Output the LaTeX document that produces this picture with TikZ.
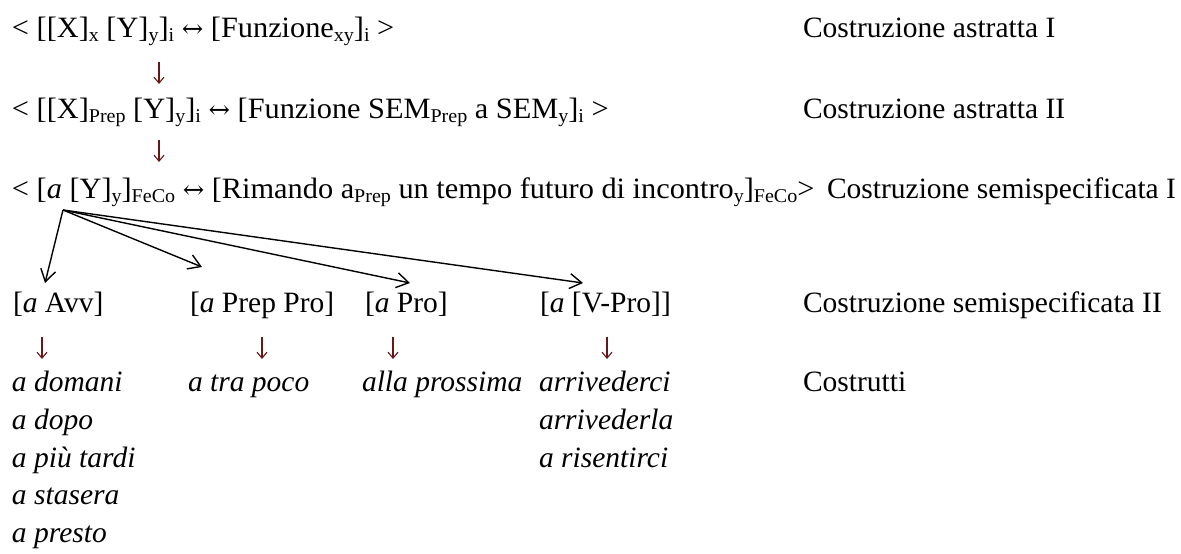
\documentclass[tikz,border=0pt]{standalone}
\usepackage{fontspec}
\setmainfont{Liberation Serif}
\newfontfamily\arrfont{DejaVu Serif}
\usetikzlibrary{arrows.meta}
\definecolor{arrred}{RGB}{105,22,22}
\newcommand\sbx[1]{\raisebox{-0.14em}{\fontsize{19.5}{20}\selectfont #1}}
\newcommand\lra{{\arrfont\fontsize{25}{25}\selectfont ↔}}
\newcommand\wide[1]{\scalebox{1.028}[1]{#1}}
\begin{document}
\begin{tikzpicture}[x=1pt,y=-1pt,
  every node/.style={inner sep=0pt,outer sep=0pt,anchor=base west,font=\fontsize{29.5}{32}\selectfont},
  downarr/.style={draw=arrred,line width=1.1pt,-{Straight Barb[length=6pt,width=10pt]}},
  fanarr/.style={draw=black,line width=1.4pt,-{Straight Barb[length=12pt,width=15pt]}}]
\useasboundingbox (0,0) rectangle (1181,554);
% row 1
\node (r1) at (12,37) {\wide{< [[X]\sbx{x} [Y]\sbx{y}]\sbx{i} \lra{} [Funzione\sbx{xy}]\sbx{i} >}};
\node (l1) at (803,37) {Costruzione astratta I};
\coordinate (d1a) at (159,62);
\coordinate (d1b) at (159,84);
\draw[downarr] (d1a) -- (d1b);
% row 2
\node (r2) at (12,118) {\wide{< [[X]\sbx{Prep} [Y]\sbx{y}]\sbx{i} \lra{} [Funzione SEM\sbx{Prep} a SEM\sbx{y}]\sbx{i} >}};
\node (l2) at (803,118) {Costruzione astratta II};
\coordinate (d2a) at (159,140);
\coordinate (d2b) at (159,162);
\draw[downarr] (d2a) -- (d2b);
% row 3
\node (r3) at (12,198) {\wide{< [\textit{a} [Y]\sbx{y}]\sbx{FeCo} \lra{} [Rimando a\sbx{Prep} un tempo futuro di incontro\sbx{y}]\sbx{FeCo}>}};
\node (l3) at (827,198) {Costruzione semispecificata I};
% fan
\coordinate (fan) at (63,210);
\coordinate (t1) at (45,283);
\coordinate (t2) at (202,267);
\coordinate (t3) at (410,283);
\coordinate (t4) at (583,283);
\draw[fanarr] (fan) -- (t1);
\draw[fanarr] (fan) -- (t2);
\draw[fanarr] (fan) -- (t3);
\draw[fanarr] (fan) -- (t4);
% row 4
\node (c1) at (13,312) {[\textit{a} Avv]};
\node (c2) at (190,312) {[\textit{a} Prep Pro]};
\node (c3) at (365,312) {[\textit{a} Pro]};
\node (c4) at (540,312) {[\textit{a} [V-Pro]]};
\node (l4) at (803,312) {Costruzione semispecificata II};
% row 5 arrows
\coordinate (e1a) at (42,337);  \coordinate (e1b) at (42,359);
\coordinate (e2a) at (262,337); \coordinate (e2b) at (262,359);
\coordinate (e3a) at (393,337); \coordinate (e3b) at (393,359);
\coordinate (e4a) at (607,337); \coordinate (e4b) at (607,359);
\draw[downarr] (e1a) -- (e1b);
\draw[downarr] (e2a) -- (e2b);
\draw[downarr] (e3a) -- (e3b);
\draw[downarr] (e4a) -- (e4b);
% examples
\node (x11) at (12,391) {\textit{a domani}};
\node (x12) at (12,429) {\textit{a dopo}};
\node (x13) at (12,467) {\textit{a più tardi}};
\node (x14) at (12,504) {\textit{a stasera}};
\node (x15) at (12,542) {\textit{a presto}};
\node (x21) at (188,391) {\textit{a tra poco}};
\node (x31) at (362,391) {\textit{alla prossima}};
\node (x41) at (539,391) {\textit{arrivederci}};
\node (x42) at (539,429) {\textit{arrivederla}};
\node (x43) at (539,467) {\textit{a risentirci}};
\node (l5) at (803,391) {Costrutti};
\end{tikzpicture}
\end{document}
